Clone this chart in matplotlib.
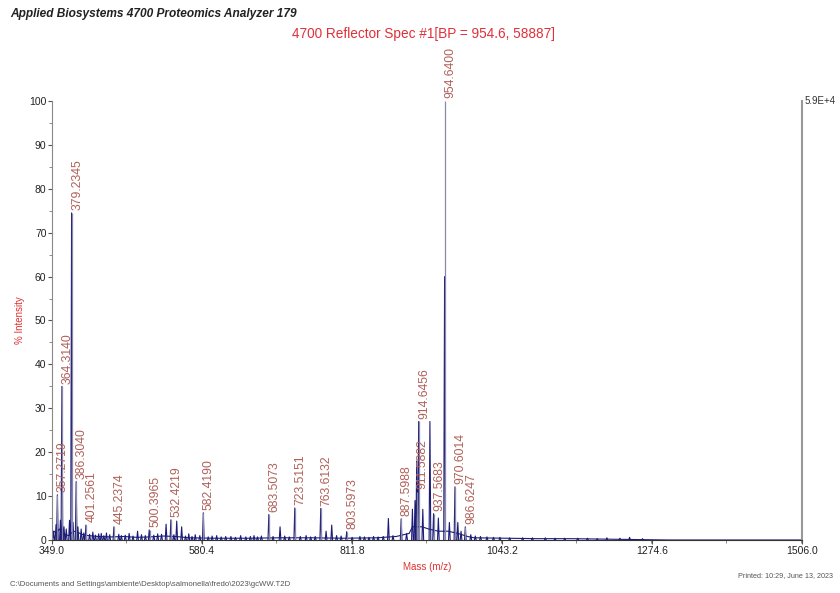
import numpy as np
import matplotlib
matplotlib.use("Agg")
import matplotlib.pyplot as plt
from matplotlib.ticker import MultipleLocator, FixedLocator

plt.rcParams['font.family'] = ['Liberation Sans', 'DejaVu Sans']

# labelled centroid peaks (m/z, % intensity)
label_mz = [357.2719, 364.3140, 379.2345, 386.3040, 401.2561, 445.2374, 500.3965,
            532.4219, 582.4190, 683.5073, 723.5151, 763.6132, 803.5973, 887.5988,
            911.5882, 914.6456, 937.5683, 954.6400, 970.6014, 986.6247]
label_int = [10.3, 35.0, 74.5, 13.3, 3.4, 3.0, 2.3,
             4.6, 6.2, 5.8, 7.3, 7.2, 1.9, 4.9,
             11.0, 27.0, 6.0, 100.0, 12.1, 3.0]

# profile peaks (m/z, apex % intensity)
prof_mz = [351.5, 355.2, 357.3, 362.0, 364.3, 367.5, 371.0, 376.0, 379.2, 381.5,
           386.3, 389.0, 394.0, 401.3, 412.0, 425.0, 433.0, 444.5, 452.0, 468.0,
           481.0, 499.0, 512.0, 525.0, 532.4, 541.4, 549.0, 560.0, 570.0, 582.4,
           603.0, 625.0, 640.0, 660.6, 672.0, 683.5, 700.8, 723.5, 741.0, 763.6,
           771.8, 780.5, 803.6, 824.0, 845.0, 867.9, 887.6, 896.0, 905.0, 909.0,
           911.6, 914.6, 921.0, 932.0, 937.6, 945.0, 954.6, 962.0, 970.6, 975.0,
           980.0, 986.6, 995.0, 1010.0, 1040.0, 1075.0, 1110.0, 1140.0, 1175.0, 1190.0]
prof_int = [2.0, 3.5, 10.3, 4.5, 35.0, 3.0, 2.5, 4.5, 74.5, 4.0,
            13.3, 3.0, 2.5, 3.4, 1.8, 1.5, 1.6, 3.0, 1.3, 1.5,
            2.0, 2.3, 1.4, 3.6, 4.6, 4.3, 3.0, 1.4, 1.2, 6.2,
            1.0, 0.8, 1.0, 1.0, 0.9, 5.8, 3.0, 7.3, 1.0, 7.2,
            2.0, 3.4, 1.9, 0.8, 0.8, 4.9, 4.8, 1.5, 7.0, 9.0,
            18.0, 27.0, 7.0, 27.0, 6.0, 5.0, 60.0, 4.0, 12.1, 4.0,
            2.0, 3.0, 1.2, 0.8, 0.6, 0.5, 0.5, 0.4, 0.4, 0.3]

# small noise spikes on the baseline
noise_mz = [398, 407, 416, 421, 429, 438, 456, 462, 474, 487, 493, 506, 518, 537, 555,
            565, 577, 590, 596, 610, 617, 632, 648, 655, 666, 690, 708, 715, 732, 748,
            755, 788, 795, 812, 831, 838, 852, 860, 875, 1002, 1020, 1030, 1055, 1090,
            1125, 1160, 1205, 1225, 1240, 1260]
noise_int = [1.6, 1.3, 1.1, 1.4, 1.0, 1.2, 1.0, 1.1, 0.9, 1.2, 1.0, 1.1, 1.3, 1.2, 0.9,
             0.8, 1.0, 0.7, 0.9, 0.7, 0.8, 0.6, 0.7, 0.8, 0.7, 0.8, 0.9, 0.7, 0.8, 0.7,
             0.8, 1.0, 0.9, 0.6, 0.7, 0.6, 0.7, 0.8, 1.0, 0.9, 0.7, 0.6, 0.5, 0.5,
             0.4, 0.4, 0.5, 0.4, 0.6, 0.3]

# baseline of the profile trace
base_mz = [349, 352, 356, 360, 365, 370, 375, 382, 388, 395, 405, 420, 440, 460, 480,
           500, 520, 540, 560, 600, 650, 700, 750, 800, 850, 880, 900, 905, 920, 930,
           945, 960, 975, 990, 1000, 1050, 1100, 1150, 1200, 1250, 1300, 1506]
base_int = [1.0, 2.0, 1.5, 2.5, 1.8, 1.2, 1.0, 2.0, 1.8, 1.3, 1.0, 0.8, 0.7, 0.8, 0.6,
            0.7, 0.9, 0.8, 0.5, 0.4, 0.4, 0.5, 0.5, 0.4, 0.5, 0.8, 1.5, 3.0, 3.0, 2.5,
            2.0, 2.0, 1.5, 0.8, 0.5, 0.4, 0.3, 0.3, 0.2, 0.1, 0.0, 0.0]

x_ticks = [349.0, 580.4, 811.8, 1043.2, 1274.6, 1506.0]

fig = plt.figure(figsize=(8.4, 5.93), dpi=100)
ax = fig.add_axes([0.0619, 0.0894, 0.8929, 0.7403])

navy = '#1c1c78'
# baseline trace
ax.plot(base_mz, base_int, color=navy, lw=0.8)
# profile peaks and noise as narrow spikes
w = 1.3
px, py = [], []
for m, h in list(zip(prof_mz, prof_int)) + list(zip(noise_mz, noise_int)):
    px += [m - w, m, m + w, np.nan]
    py += [0, h, 0, np.nan]
ax.plot(px, py, color=navy, lw=0.8)
# centroid sticks
ax.vlines(label_mz, 0, label_int, color='#8a8aa8', lw=0.9)

# peak labels
for m, h in zip(label_mz, label_int):
    ax.annotate(f"{m:.4f}", (m, h), xytext=(4, 2), textcoords='offset points',
                rotation=90, ha='center', va='bottom', fontsize=8.8,
                color='#b06058')

ax.set_xlim(349.0, 1506.0)
ax.set_ylim(0, 100)
ax.xaxis.set_major_locator(FixedLocator(x_ticks))
ax.set_xticklabels([f"{t:.1f}" for t in x_ticks])
ax.xaxis.set_minor_locator(MultipleLocator(115.7))
ax.yaxis.set_major_locator(MultipleLocator(10))
ax.yaxis.set_minor_locator(MultipleLocator(5))
ax.tick_params(axis='both', which='major', labelsize=7.5, length=3, width=0.8,
               color='#555555', labelcolor='#222222', pad=1)
ax.tick_params(axis='both', which='minor', length=2, width=0.6, color='#777777')

ax.spines['top'].set_visible(False)
ax.spines['left'].set_color('#888888')
ax.spines['right'].set_color('#999999')
ax.spines['right'].set_linewidth(1.5)
ax.spines['bottom'].set_color('#333333')

ax.set_xlabel("Mass (m/z)", color='#e03030', fontsize=7, labelpad=5)
ax.set_ylabel("% Intensity", color='#e03030', fontsize=7, labelpad=3)
ax.text(1.004, 1.0, "5.9E+4", transform=ax.transAxes, fontsize=7,
        color='#333333', ha='left', va='center')

fig.text(0.012, 0.977, "Applied Biosystems 4700 Proteomics Analyzer 179",
         fontsize=8.6, fontweight='bold', fontstyle='italic', color='#222222',
         ha='left', va='center')
fig.text(0.504, 0.943, "4700 Reflector Spec #1[BP = 954.6, 58887]",
         fontsize=9.8, color='#e0303a', ha='center', va='center')
fig.text(0.012, 0.009, r"C:\Documents and Settings\ambiente\Desktop\salmonella\fredo\2023\gcWW.T2D",
         fontsize=5.6, color='#555555', ha='left', va='bottom')
fig.text(0.992, 0.029, "Printed: 10:29, June 13, 2023",
         fontsize=5.2, color='#555555', ha='right', va='center')

fig.savefig("out.png", dpi=100)
